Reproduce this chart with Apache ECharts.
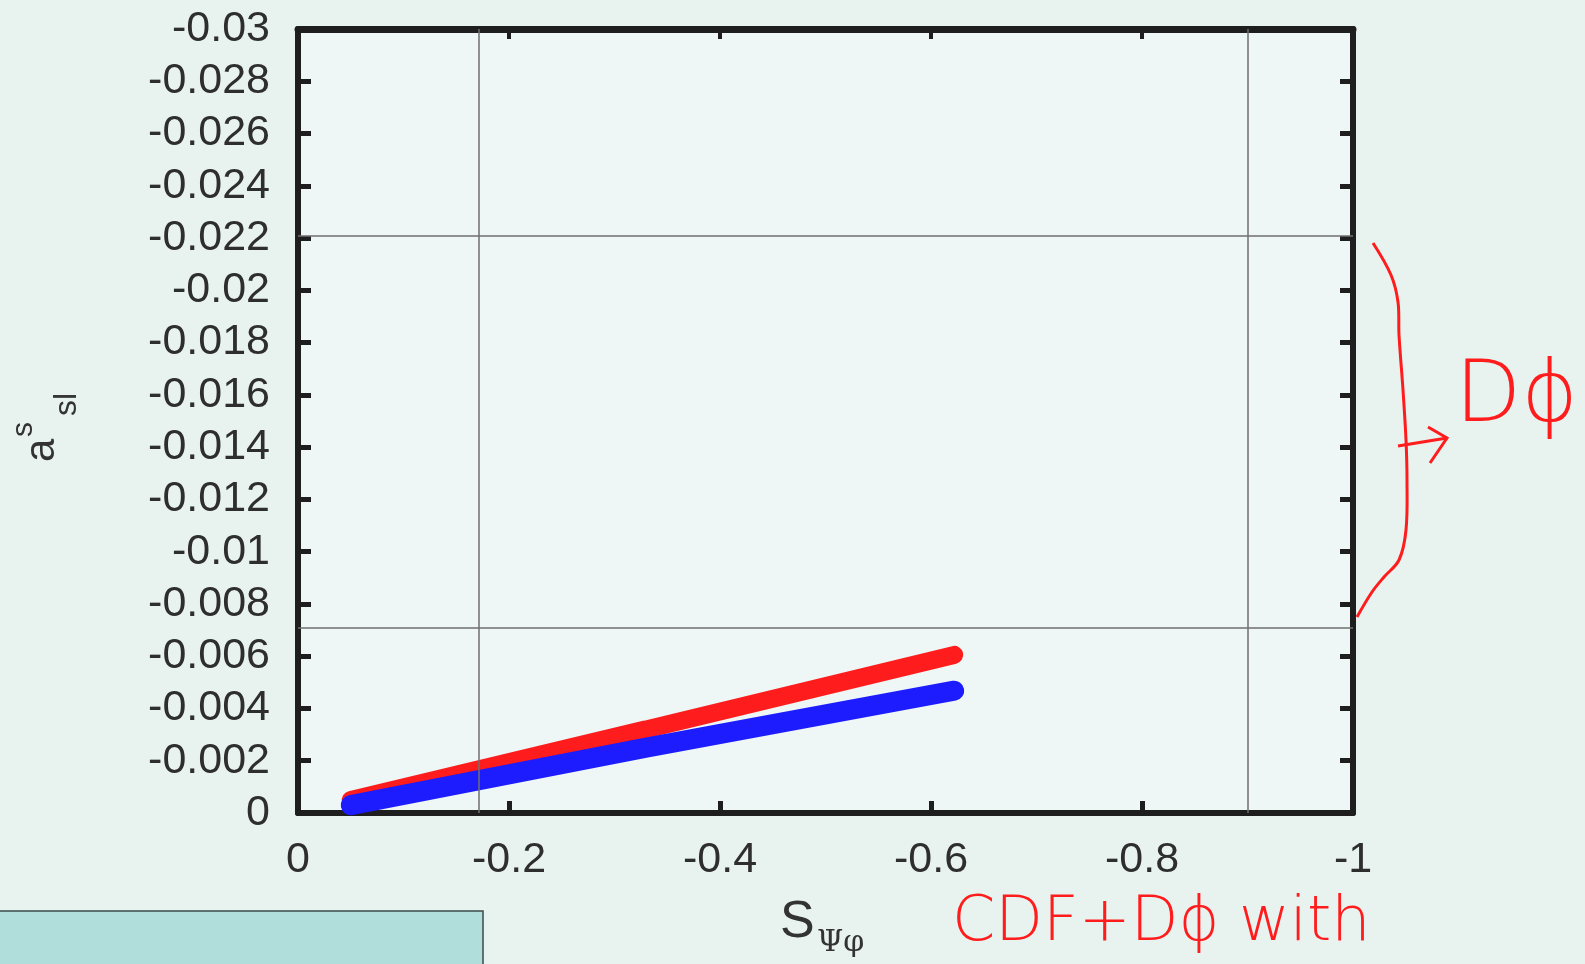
<!DOCTYPE html>
<html>
<head>
<meta charset="utf-8">
<script src="https://cdn.jsdelivr.net/npm/echarts@6/dist/echarts.min.js"></script>
<style>
  html, body { margin: 0; padding: 0; background: #e8f3f0; }
  #main { width: 1585px; height: 964px; }
</style>
</head>
<body>
<div id="main"></div>
<script>
// band end points (x = S_psi_phi, y = a^s_sl)
var redX = [-0.05, -0.33, -0.622];
var redY = [-0.0005, -0.0032, -0.00605];
var blueX = [-0.05, -0.33, -0.622];
var blueY = [-0.0003, -0.0025, -0.00468];

// reference lines
var hLines = [-0.0221, -0.0071];
var vLines = [-0.171, -0.90];

function pairs(xs, ys) {
    var out = [];
    for (var i = 0; i < xs.length; i++) {
        out.push([xs[i], ys[i]]);
    }
    return out;
}

var refLines = [];
for (var i = 0; i < hLines.length; i++) refLines.push({yAxis: hLines[i]});
for (var j = 0; j < vLines.length; j++) refLines.push({xAxis: vLines[j]});

var frameColor = '#1e1e1e';
var labelFont = 'Liberation Sans';
var red = '#ff1c1c';

var Chart = echarts.init(document.getElementById('main'));
var option = {
    backgroundColor: '#e8f3f0',
    animation: false,
    grid: {
        left: 298, right: 232, top: 29, bottom: 151,
        show: true,
        backgroundColor: '#eef7f5',
        borderWidth: 0
    },
    xAxis: [{
        type: 'value',
        min: -1, max: 0, interval: 0.2,
        inverse: true,
        position: 'bottom',
        axisLine: {onZero: false, lineStyle: {color: frameColor, width: 6}},
        axisTick: {inside: true, length: 12, lineStyle: {color: frameColor, width: 5}},
        splitLine: {show: false},
        axisLabel: {
            margin: 26, color: '#2e2e2e', fontSize: 43, fontFamily: labelFont,
            formatter: function (v) { return String(+v.toFixed(1)); }
        }
    }, {
        type: 'value',
        min: -1, max: 0, interval: 0.2,
        inverse: true,
        position: 'top',
        axisLine: {onZero: false, lineStyle: {color: frameColor, width: 7}},
        axisTick: {inside: true, length: 10, lineStyle: {color: frameColor, width: 4}},
        splitLine: {show: false},
        axisLabel: {show: false}
    }],
    yAxis: [{
        type: 'value',
        min: -0.03, max: 0, interval: 0.002,
        inverse: true,
        position: 'left',
        axisLine: {onZero: false, lineStyle: {color: frameColor, width: 6}},
        axisTick: {inside: true, length: 13, lineStyle: {color: frameColor, width: 5}},
        splitLine: {show: false},
        axisLabel: {
            margin: 28, color: '#2e2e2e', fontSize: 43, fontFamily: labelFont,
            formatter: function (v) { return String(+v.toFixed(3)); }
        }
    }, {
        type: 'value',
        min: -0.03, max: 0, interval: 0.002,
        inverse: true,
        position: 'right',
        axisLine: {onZero: false, lineStyle: {color: frameColor, width: 6}},
        axisTick: {inside: true, length: 13, lineStyle: {color: frameColor, width: 5}},
        splitLine: {show: false},
        axisLabel: {show: false}
    }],
    series: [{
        name: 'red',
        type: 'line',
        data: pairs(redX, redY),
        symbol: 'none',
        lineStyle: {color: red, width: 18, cap: 'round'},
        markLine: {
            silent: true,
            symbol: 'none',
            precision: 5,
            label: {show: false},
            lineStyle: {color: '#6f6f6f', width: 1.5, type: 'solid'},
            data: refLines
        },
        z: 3
    }, {
        name: 'blue',
        type: 'line',
        data: pairs(blueX, blueY),
        symbol: 'none',
        lineStyle: {color: '#1c1cff', width: 20, cap: 'round'},
        z: 4
    }],
    graphic: [
        // box at the bottom left of the slide
        {type: 'rect', shape: {x: -2, y: 911, width: 485, height: 60},
         style: {fill: '#b0dedb', stroke: '#3a4a4a', lineWidth: 1.5}},
        // y axis name a^s_sl, rotated
        {type: 'group', x: 63, y: 462, rotation: Math.PI / 2, children: [
            {type: 'text', x: 0, y: 0, style: {text: 'a', font: '42px Liberation Sans', fill: '#333', verticalAlign: 'bottom'}},
            {type: 'text', x: 25, y: -24, style: {text: 's', font: '30px Liberation Sans', fill: '#333', verticalAlign: 'bottom'}},
            {type: 'text', x: 46, y: 20, style: {text: 'sl', font: '32px Liberation Sans', fill: '#333', verticalAlign: 'bottom'}}
        ]},
        // x axis name S_psi_phi
        {type: 'text', x: 780, y: 897, style: {text: 'S', font: '52px Liberation Sans', fill: '#333'}},
        {type: 'text', x: 817, y: 928, style: {text: 'Ψφ', font: '30px DejaVu Serif', fill: '#333'}},
        // handwritten brace and arrow
        {type: 'polyline', shape: {smooth: 0.35, points: [
            [1373, 243], [1391, 275], [1398, 302], [1399, 335], [1403, 390],
            [1406, 440], [1407, 480], [1406, 530], [1399, 560], [1384, 577], [1372, 592], [1357, 617]
        ]}, style: {stroke: red, lineWidth: 3, fill: null}, z: 10},
        {type: 'polyline', shape: {points: [[1398, 446], [1447, 438]]},
         style: {stroke: red, lineWidth: 3, fill: null}, z: 10},
        {type: 'polyline', shape: {points: [[1428, 427], [1447, 438], [1430, 463]]},
         style: {stroke: red, lineWidth: 3, fill: null}, z: 10},
        {type: 'text', x: 1455, y: 356, style: {text: 'Dϕ', font: '300 86px DejaVu Sans', fill: red}, z: 10},
        {type: 'text', x: 952, y: 893, style: {text: 'CDF+Dϕ with', font: '300 62px DejaVu Sans', fill: red}, z: 10}
    ]
};
Chart.setOption(option);
</script>
</body>
</html>
